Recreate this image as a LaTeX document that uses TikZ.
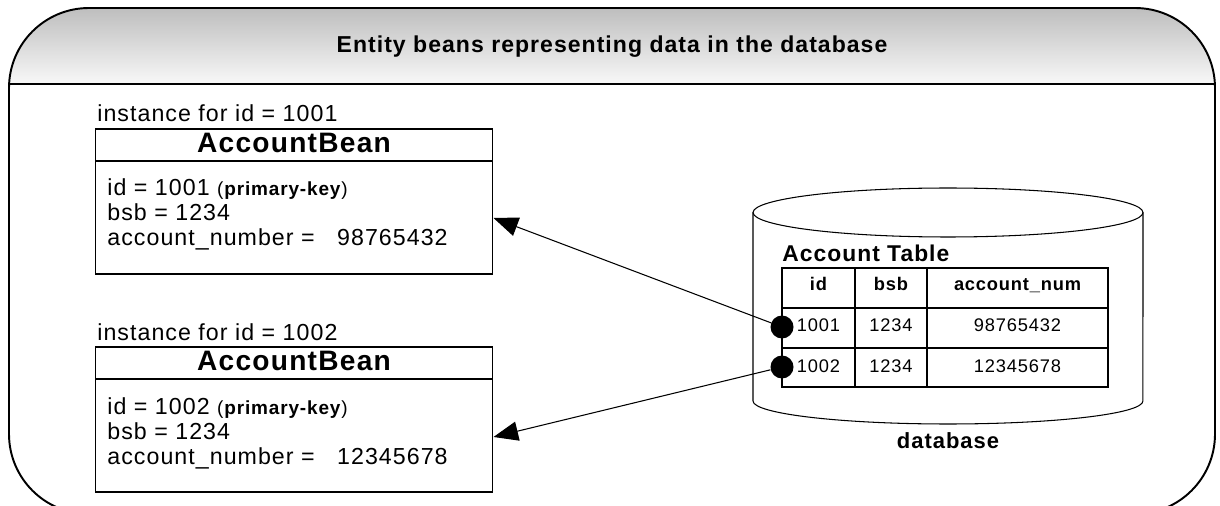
\documentclass[tikz,border=0pt]{standalone}
\usepackage{fontspec}
\setmainfont{Liberation Sans}[LetterSpace=4.5]
\usepackage{tikz}
\usetikzlibrary{arrows.meta}
\definecolor{bandtop}{RGB}{190,190,190}
\definecolor{bandbot}{RGB}{248,248,248}
\newcommand{\setsz}[1]{\fontsize{#1}{#1}\selectfont}

\begin{document}
\begin{tikzpicture}[x=0.02cm, y=-0.02cm,
  txt/.style={inner sep=0pt, anchor=base west, font=\setsz{13.2}},
  bean/.style={draw, line width=0.6pt, minimum width=7.96cm, minimum height=2.9cm, inner sep=0pt},
  beantitle/.style={inner sep=0pt, anchor=base, font=\bfseries\setsz{16}},
  cell/.style={inner sep=0pt, anchor=base, font=\setsz{10.4}},
  headcell/.style={cell, font=\bfseries\setsz{10.4}},
  rowdot/.style={circle, fill, inner sep=0pt, minimum size=0.46cm},
  link/.style={line width=0.6pt, -{Triangle[length=14pt, width=11pt]}}]
  \useasboundingbox (0,0) rectangle (1220,506);
  \clip (0,0) rectangle (1220,506);
  % frame with shaded band
  \begin{scope}
    \clip[rounded corners=1.6cm] (9,8) rectangle (1215,514);
    \shade[top color=bandtop, bottom color=bandbot] (9,8) rectangle (1215,84);
  \end{scope}
  \draw[line width=1.1pt, rounded corners=1.6cm] (9,8) rectangle (1215,514);
  \draw[line width=1.1pt] (9,84) -- (1215,84);
  \node[inner sep=0pt, anchor=base, font=\bfseries\setsz{13.1}] (title) at (612,53)
    {Entity beans representing data in the database};

  % first bean
  \node[txt] (inst1) at (97,122) {instance for id = 1001};
  \node[bean] (bean1) at (294,201.5) {};
  \draw[line width=0.6pt] (95,161) -- (493,161);
  \node[beantitle] (name1) at (294,153) {AccountBean};
  \node[txt] (id1) at (107,196) {id = 1001 {\setsz{10.8}(\textbf{primary-key})}};
  \node[txt] (bsb1) at (107,221) {bsb = 1234};
  \node[txt] (num1) at (107,246) {account\_number =\ \ \ 98765432};

  % second bean
  \node[txt] (inst2) at (97,340) {instance for id = 1002};
  \node[bean] (bean2) at (294,419.5) {};
  \draw[line width=0.6pt] (95,379) -- (493,379);
  \node[beantitle] (name2) at (294,371) {AccountBean};
  \node[txt] (id2) at (107,414) {id = 1002 {\setsz{10.8}(\textbf{primary-key})}};
  \node[txt] (bsb2) at (107,439) {bsb = 1234};
  \node[txt] (num2) at (107,464) {account\_number =\ \ \ 12345678};

  % database
  \draw[line width=0.6pt] (948,212.5) ellipse [x radius=3.9cm, y radius=0.49cm];
  \draw[line width=0.6pt] (753,212.5) -- (753,401)
    arc[start angle=180, end angle=360, x radius=3.9cm, y radius=0.46cm] -- (1143,212.5);
  \node[inner sep=0pt, anchor=base, font=\bfseries\setsz{12.5}] (db) at (948,448) {database};
  \node[inner sep=0pt, anchor=base west, font=\bfseries\setsz{13}] (tbl) at (782,262) {Account Table};
  \draw[line width=0.6pt] (782,268) rectangle (1108,387);
  \draw[line width=0.6pt] (782,308) -- (1108,308);
  \draw[line width=0.6pt] (782,348) -- (1108,348);
  \draw[line width=0.6pt] (855,268) -- (855,387);
  \draw[line width=0.6pt] (927,268) -- (927,387);
  \node[headcell] (hid) at (818.5,291) {id};
  \node[headcell] (hbsb) at (891,291) {bsb};
  \node[headcell] (hnum) at (1017.5,291) {account\_num};
  \node[cell] (r1id) at (818.5,332) {1001};
  \node[cell] (r1bsb) at (891,332) {1234};
  \node[cell] (r1num) at (1017.5,332) {98765432};
  \node[cell] (r2id) at (818.5,373) {1002};
  \node[cell] (r2bsb) at (891,373) {1234};
  \node[cell] (r2num) at (1017.5,373) {12345678};

  % rows to beans
  \node[rowdot] (dot1) at (782,327) {};
  \node[rowdot] (dot2) at (782,367) {};
  \draw[link] (dot1) -- ([yshift=-0.33cm]bean1.east);
  \draw[link] (dot2) -- ([yshift=-0.35cm]bean2.east);
\end{tikzpicture}
\end{document}
